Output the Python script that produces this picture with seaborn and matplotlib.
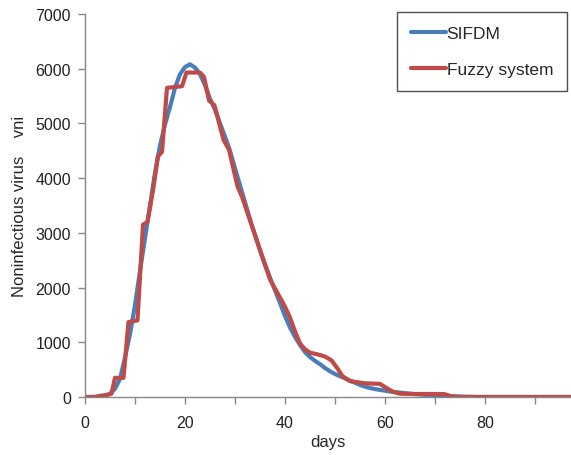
import matplotlib
matplotlib.use("Agg")
import matplotlib.pyplot as plt
import seaborn as sns
import pandas as pd
from matplotlib.ticker import MultipleLocator

# SIFDM (smooth) curve, read at integer days
sifdm_days = list(range(0, 99))
sifdm_vals = [0, 0, 2, 8, 25, 60, 150, 330, 720, 1150,
              1680, 2300, 2900, 3500, 4100, 4600, 4980, 5300, 5650, 5900,
              6030, 6080, 6020, 5900, 5700, 5450, 5250, 5000, 4760, 4500,
              4180, 3870, 3560, 3250, 2960, 2680, 2420, 2180, 1950, 1720,
              1480, 1270, 1100, 950, 820, 730, 660, 600, 530, 470,
              420, 380, 340, 300, 260, 220, 190, 165, 145, 130,
              115, 100, 90, 80, 70, 60, 52, 45, 40, 35,
              30, 25, 20, 16, 12, 9, 6, 4, 2, 0] + [0] * 19

# Fuzzy system curve vertices
fuzzy_days = [0, 2, 3, 4.5, 5.3, 6, 7.7, 8.7, 10.5, 11.6, 12.5, 13.6, 14.6, 15.4,
              16.4, 19.4, 20.3, 23, 23.8, 24.8, 25.9, 27.7, 28.8, 30.5, 31.4,
              33, 35.4, 37, 38.5, 40, 41, 42, 43, 44, 45, 46.5, 48, 49.3,
              50.5, 51.5, 53, 54.5, 56, 59, 60, 61.5, 63, 66, 71, 72, 73, 74.5, 98]
fuzzy_vals = [0, 0, 20, 40, 60, 350, 350, 1370, 1400, 3150, 3200, 3780, 4400, 4480,
              5650, 5680, 5930, 5930, 5850, 5420, 5330, 4700, 4520, 3850, 3660,
              3230, 2580, 2150, 1900, 1650, 1450, 1200, 980, 870, 810, 780, 740, 670,
              520, 380, 290, 270, 250, 240, 180, 100, 60, 55, 55, 50, 20, 0, 0]

series_names = ["SIFDM", "Fuzzy system"]
x_ticks = [0, 20, 40, 60, 80]
y_ticks = [0, 1000, 2000, 3000, 4000, 5000, 6000, 7000]

df = pd.concat([
    pd.DataFrame({"days": sifdm_days, "value": sifdm_vals, "series": series_names[0]}),
    pd.DataFrame({"days": fuzzy_days, "value": fuzzy_vals, "series": series_names[1]}),
], ignore_index=True)

sns.set_style("white")
plt.rcParams["font.family"] = ["Liberation Sans", "DejaVu Sans"]

fig = plt.figure(figsize=(5.71, 4.56), dpi=100)
ax = fig.add_axes([85 / 571, 58 / 456, (571 - 85) / 571, (398 - 15) / 456])

palette = {"SIFDM": "#4a7ebb", "Fuzzy system": "#be4b48"}
sns.lineplot(data=df, x="days", y="value", hue="series", palette=palette,
             linewidth=3.0, ax=ax, sort=False, estimator=None)

ax.set_xlim(0, 97.2)
ax.set_ylim(0, 7000)
ax.set_xticks(x_ticks)
ax.xaxis.set_minor_locator(MultipleLocator(10))
ax.set_yticks(y_ticks)
ax.tick_params(axis="both", which="both", direction="out", color="#888888",
               labelsize=11.5, labelcolor="#222222", bottom=True, left=True)
ax.tick_params(axis="x", which="major", length=5, width=1, pad=8)
ax.tick_params(axis="x", which="minor", length=5, width=1)
ax.tick_params(axis="y", length=5, width=1, pad=5)
for side in ["top", "right"]:
    ax.spines[side].set_visible(False)
for side in ["left", "bottom"]:
    ax.spines[side].set_color("#888888")
    ax.spines[side].set_linewidth(1.0)

ax.set_xlabel("days", fontsize=12, labelpad=3)
ax.set_ylabel("Noninfectious virus    vni", fontsize=12, labelpad=6)

leg = ax.legend(loc="upper right", bbox_to_anchor=(567 / 571, 1 - 13 / 456),
                bbox_transform=fig.transFigure,
                frameon=True, fancybox=False, fontsize=12.5, handlelength=2.0,
                handletextpad=0.05, labelspacing=1.2, borderpad=0.8, borderaxespad=0)
leg.get_frame().set_edgecolor("#222222")
leg.get_frame().set_linewidth(1.0)
for line in leg.get_lines():
    line.set_linewidth(3.0)

fig.savefig("out.png", dpi=100)
